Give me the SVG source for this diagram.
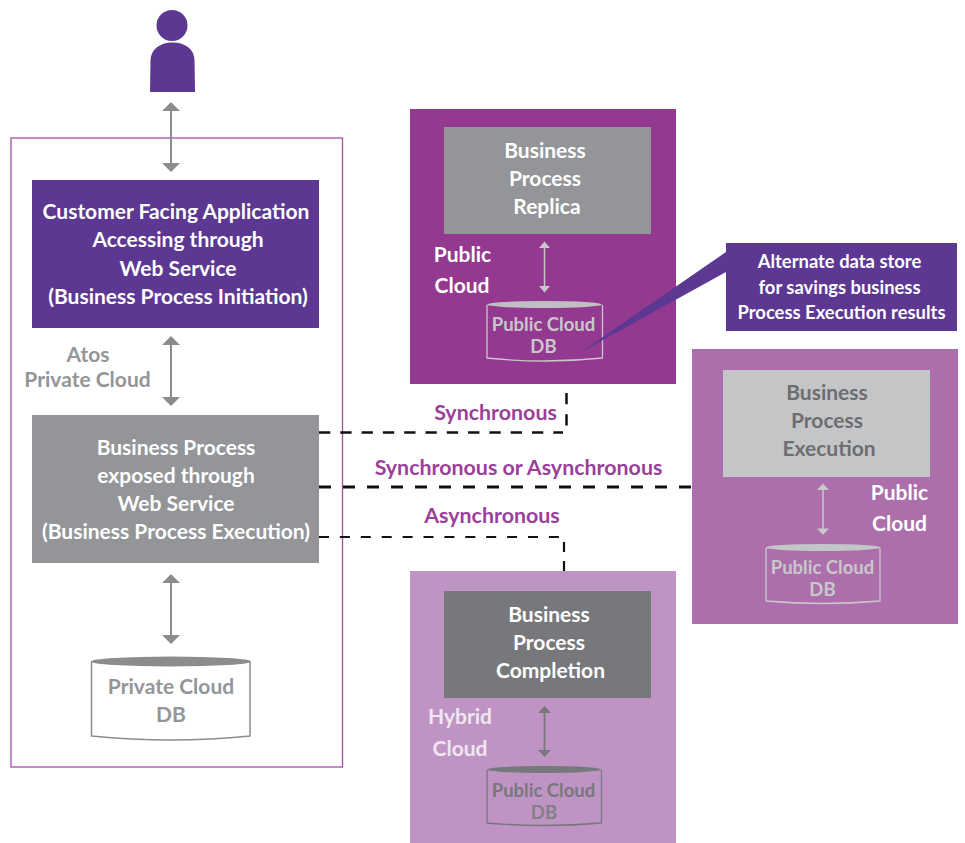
<svg xmlns="http://www.w3.org/2000/svg" width="965" height="843" viewBox="0 0 965 843">
<style>
text{font-family:"Lato","Liberation Sans",sans-serif;font-weight:700;font-size:21px;text-anchor:middle}
.w{fill:#fff}.g{fill:#939598}.p{fill:#9a3f9a;font-size:21.400px}.d{fill:#6d6e71}
.dbt{font-size:18.500px}.co{font-size:18.400px}
.dash{fill:none;stroke:#111;stroke-width:2.500;stroke-dasharray:11.300 10}
</style>
<rect width="965" height="843" fill="#fff"/>
<g id="user"><circle cx="172" cy="25.500" r="15.500" fill="#5c3893"/><path d="M150 92L150.500 60C151 50 159 42.500 172.500 42.500C186 42.500 194.500 50 194.500 60L195 92Z" fill="#5c3893"/></g>
<g id="private-cloud"><rect x="11" y="138" width="331.500" height="629" fill="#fff" stroke="#a34fa8" stroke-width="1.300"/><text class="g" x="88" y="362">Atos</text><text class="g" x="87.500" y="387">Private Cloud</text></g>
<g id="initiation"><rect x="32" y="180" width="287" height="148" fill="#5c3893"/><text class="w" x="176" y="219">Customer Facing Application</text><text class="w" x="178" y="247">Accessing through</text><text class="w" x="178" y="276">Web Service</text><text class="w" x="178" y="304">(Business Process Initiation)</text></g>
<g id="execution"><rect x="32" y="415" width="287" height="148" fill="#939598"/><text class="w" x="176" y="455">Business Process</text><text class="w" x="176" y="483">exposed through</text><text class="w" x="176" y="511">Web Service</text><text class="w" x="176" y="539">(Business Process Execution)</text></g>
<g id="private-db"><path d="M91.500 662V736Q171 744 250 736V662" fill="#fff" stroke="#8a8c8e" stroke-width="1.500"/><ellipse cx="171" cy="661.500" rx="80" ry="5" fill="#8a8c8e"/><text class="g" x="171" y="694">Private Cloud</text><text class="g" x="171" y="722">DB</text></g>
<g id="replica-zone"><rect x="410" y="109" width="266" height="275" fill="#93398f"/><text class="w" x="462.500" y="262">Public</text><text class="w" x="462" y="293">Cloud</text></g>
<g id="replica"><rect x="444" y="127" width="207" height="107" fill="#939598"/><text class="w" x="545" y="158">Business</text><text class="w" x="545" y="186">Process</text><text class="w" x="547" y="214">Replica</text></g>
<g id="replica-db"><path d="M487 305V358Q545 364 602.500 358V305" fill="none" stroke="#c8c8ca" stroke-width="1.300"/><ellipse cx="544.500" cy="304.500" rx="57.500" ry="3.500" fill="#c0c0c2"/><text class="dbt" x="543.500" y="331" fill="#c8c8ca">Public Cloud</text><text class="dbt" x="543.500" y="353" fill="#c8c8ca">DB</text></g>
<g id="exec-zone"><rect x="692" y="349" width="266" height="275" fill="#ad6fab"/><text class="w" x="899.500" y="500">Public</text><text class="w" x="899.500" y="531">Cloud</text></g>
<g id="exec-box"><rect x="723" y="370" width="207" height="107" fill="#c4c5c7"/><text class="d" x="827" y="400">Business</text><text class="d" x="827" y="428">Process</text><text class="d" x="829" y="456">Execution</text></g>
<g id="exec-db"><path d="M766 548V601Q822 606 880 601V548" fill="none" stroke="#c8c8ca" stroke-width="1.300"/><ellipse cx="823" cy="547.500" rx="57.500" ry="3.500" fill="#c4c5c7"/><text class="dbt" x="822.500" y="574" fill="#c8c8ca">Public Cloud</text><text class="dbt" x="822.500" y="596" fill="#c8c8ca">DB</text></g>
<g id="completion-zone"><rect x="410" y="571" width="266" height="272" fill="#bf93c3"/><text x="460" y="724" fill="#f0e6f0">Hybrid</text><text x="460" y="756" fill="#f0e6f0">Cloud</text></g>
<g id="completion"><rect x="444" y="591" width="207" height="107" fill="#77787b"/><text class="w" x="549" y="622">Business</text><text class="w" x="549" y="650">Process</text><text class="w" x="550.500" y="678">Completion</text></g>
<g id="completion-db"><path d="M487 770V823Q544 828 601.500 823V770" fill="none" stroke="#77787b" stroke-width="1.300"/><ellipse cx="544" cy="769.500" rx="57" ry="3.500" fill="#77787b"/><text class="dbt" x="543.500" y="797" fill="#77787b">Public Cloud</text><text class="dbt" x="544" y="819" fill="#808184">DB</text></g>
<g id="callout"><path d="M726 252L581 352L726 272Z" fill="#5c3893"/><rect x="726" y="243" width="231" height="88" fill="#5c3893"/><text class="w co" x="839.500" y="268">Alternate data store</text><text class="w co" x="839.500" y="294">for savings business</text><text class="w co" x="841.500" y="319">Process Execution results</text></g>
<g id="connectors">
<g stroke="#8a8c8e" stroke-width="2" fill="#8a8c8e">
<path d="M171 108V166"/><path stroke="none" d="M171 102L180 111H162ZM171 172L180 163H162Z"/>
<path d="M171 342V400"/><path stroke="none" d="M171 336L180 345H162ZM171 406L180 397H162Z"/>
<path d="M171 580V638"/><path stroke="none" d="M171 574L180 583H162ZM171 644L180 635H162Z"/>
</g>
<path d="M544.500 246V288" stroke="#c8c8ca" stroke-width="1.500"/><path fill="#c8c8ca" d="M544.500 241.500L550 248H539ZM544.500 292.500L550 286H539Z"/>
<path d="M823 488V531" stroke="#c8c8ca" stroke-width="1.500"/><path fill="#c8c8ca" d="M823 483.500L829 490H817ZM823 535L829 528.500H817Z"/>
<path d="M544.500 711V753" stroke="#77787b" stroke-width="1.800"/><path fill="#77787b" d="M544.500 706L551 713H538ZM544.500 757L551 750H538Z"/>
<path class="dash" d="M319 432.500H563"/>
<path class="dash" d="M566.500 393V426"/>
<path class="dash" style="stroke-width:3;stroke-dasharray:12 12" d="M319 487H692"/>
<path class="dash" style="stroke-width:2.200;stroke-dasharray:10 10.900" d="M319 537H559"/>
<path class="dash" style="stroke-width:2.200;stroke-dasharray:10 9" d="M564 542V572"/>
</g>
<g id="edge-labels"><text class="p" x="495.500" y="420">Synchronous</text><text class="p" x="518.500" y="475">Synchronous or Asynchronous</text><text class="p" x="492" y="523">Asynchronous</text></g>
</svg>
